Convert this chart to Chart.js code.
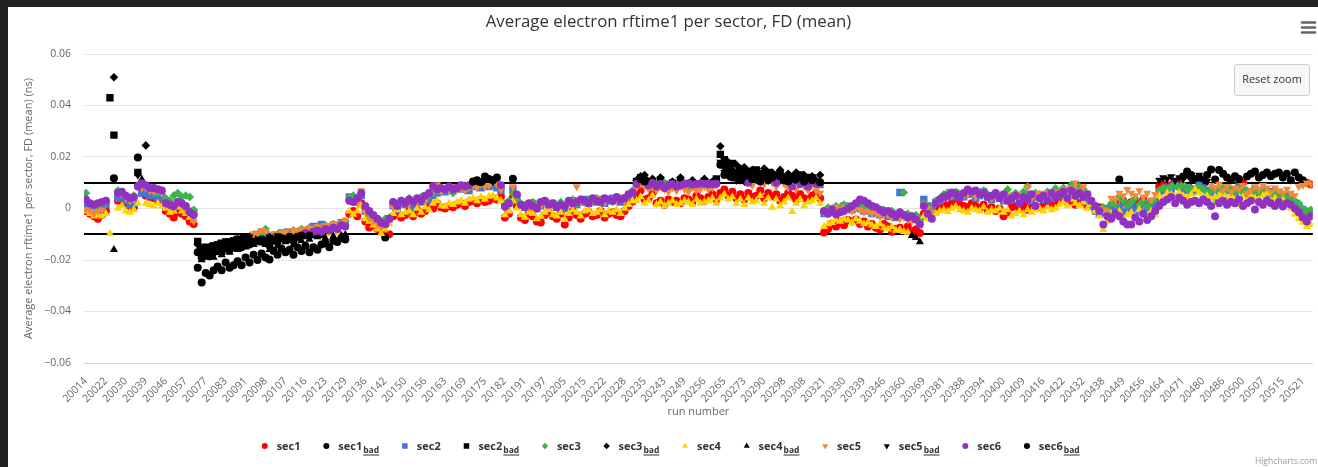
<!DOCTYPE html>
<html>
<head>
<meta charset="utf-8">
<script src="https://cdn.jsdelivr.net/npm/chart.js@4/dist/chart.umd.min.js"></script>
<style>
  html, body { margin: 0; padding: 0; background: #222; }
  #wrap { position: absolute; left: 8px; top: 7px; width: 1310px; height: 460px; background: #fff; }
  canvas { display: block; }
</style>
</head>
<body>
<div id="wrap"><canvas id="c" width="1310" height="460"></canvas></div>
<script>
// Run numbers printed on the x axis (one label every 5 runs)
const runTicks = [
  '20014','20022','20030','20039','20046','20057','20077','20083','20091','20098',
  '20107','20116','20123','20129','20136','20142','20150','20156','20163','20169',
  '20175','20182','20191','20197','20205','20215','20222','20228','20235','20243',
  '20249','20256','20265','20273','20290','20298','20308','20321','20330','20339',
  '20346','20360','20369','20381','20388','20394','20400','20409','20416','20422',
  '20432','20438','20449','20456','20464','20471','20480','20486','20500','20507',
  '20515','20521'
];
const runsPerTick = 5;

// Mean electron rftime1 per run, one array per FD sector, in ps (null = no entry)
const sec1 = [
  -1, -2, -3, -4, -2.5, -1,
  null, 11.7,
  3, 4, 2, 1, 0.5, 19.8, 6, 5, 4.5, 4, 3, 3.5,
  -1, -2, -3.5, -1.5, -2, -3, -5, -6,
  -23, -28.7, -25, -26, -24, -22.5, -24, -21, -23, -22, -20.5, -22, -19, -21, -18, -20, -17.5, -19, -19.8, -16.5,
  -18, -15.5, -17, -16, -18, -15, -16.5, -14.5, -17, -15, -16, -14, -13.5, -15, -12.5, -13, -11.5, -12,
  -2, -1, -3, 2, -5, -7.4, -6, -8, -9, -11.3, -10,
  -3, -1.5, -3.5, -2.5, -1, -3, -0.5, -2, -1, 0.5, 0, 2,
  0.5, 0, 1, 0.5, 1.5, 2, 1, 2.5, 3, 2, 3.5, 2.5, 3, 4, 3.5, 4.7, -3.5, -2, 4.3, 1,
  -3.5, -4.5, -2, -3, -5, -5.4, -2.5, -1.5, -3, -4, -2, -6.2, -3.5, -1, -2.5, -4, -2, -1.5, -3, -2.5,
  -1, -3.5, -2, -1.5, -2.5, -3, -1, 1, 2.7,
  5, 7, 3.5, 4, 6, 2, 3, 1.5, 3.5, 2.5, 3, 2, 4, 3.5, 2.5, 5, 4, 3, 4.5, 5.5, 3.5, 6, 7.4, 5,
  6.5, 4, 5.5, 3.5, 6, 4.5, 5, 7, 4, 6, 4.7, 5.5, 3, 4.5, 6, 5, 3.5, 5.5, 4, 3.5, 5, 6, 4,
  -9.3, -8, -6, -7, -5, -6.5, -4.5, -5, -4.3, -6, -5, -7, -6, -7.5, -8.2, -6, -7, -9, -8, -7.5, -8.5, -7, -9, -8.2, -9.5,
  -2, -3, -1.5, -1, 0.5, 1.5, 1, 2, 2.5, 1.5, 1, 0.5, 2, 1, 0, 1.5, -0.5, 0.5, -1, 0, -3, -1.5, 0.5, 1,
  0, 1.5, -0.5, 2, 1, 0.5, 1.5, 2.5, 1, 2, 3, 4.7, 2.5, 3.5, 1.5, 2, 3, 1, 2, -0.4, 0.5, -1.5, -2,
  1, 2, 11.3, 3, 1.5, 2.5, 0.8, 2, 3.5, 1, 2.5, 3,
  8.5, 9.3, 8.2, 9, 10, 9.5, 12.4, 14.4, 13, 11.5, 12, 10.5, 13, 15.1, 11.3, 15, 13.5, 12, 11, 12.5,
  11.5, 10, 12.4, 13.5, 14.4, 12, 13, 14, 12.5, 13.5, 14, 12, 13.5, 11, 14, 12, 11, 10, 9.3
];
const sec2 = [
  1, 0, 1, -1, 0, 1.5,
  43, 28.5,
  4, 5, 3, 1.5, 2, 14, 6, 6, 5, 5, 4, 4.5,
  1.5, 1, 0.5, 2, 1, 0, -1, -1.5,
  -12.8, -16, -15.5, -16, -14.5, -15, -13.5, -14, -13, -13.5, -12, -12.5, -11, -12, -10.5, -11, -9.5, -10, -12, -10.5,
  -11, -9.5, -10, -9.2, -10.5, -9, -9.5, -8.5, -9, -7, -8, -6.2, -7.5, -8, -6.5, -7, -5.5, -6,
  4.5, 4, 2.5, 5, -1, -3, -4, -5.5, -5, -6, -4,
  1, -0.5, 2, 1.5, 2.5, 0.5, 3, 2.5, 3.5, 3, 5, 6,
  7, 6.5, 7.5, 7, 8, 7.5, 8, 7, 8.5, 9, 8, 9, 8.5, 9, 8, 7, 1.5, 2, 7.4, 4,
  1.5, 0.5, 1, 2, 0, 1, 2.5, 1.5, 2, 0.5, 1, 0, 2, 3, 1.5, 2.5, 3.5, 2, 3, 2.5,
  3.5, 2, 3, 4, 3, 2.5, 3.5, 4.5, 6,
  10.5, 12, 11, 9.5, 10, 9, 11, 9.5, 8.5, 10, 9, 10.5, 9.5, 8.5, 10, 9, 9.5, 10.5, 9.5, 10, 11.5, 21, 19, 16.5,
  17.5, 14, 15.5, 13, 14.5, 12.5, 15, 13.5, 12, 14, 12.5, 11.5, 13.5, 12, 11, 12.5, 11, 13, 11.5, 10.5, 12, 10, 9.3,
  -2, -1, -1.5, 0, -0.5, 1, 0.5, -0.5, 1, 0, -1, -0.5, -2, -1, -2.5, -1.5, -3, -2, -3.5, 6.2, -2.5, -3, -4, -3.5, -5,
  3.5, 1, 0, 2.5, 3, 4, 5, 4.5, 6, 5, 4.5, 6, 5.5, 4, 5, 6.5, 4.5, 3.5, 5, 4, 3, 4.5, 3.5, 5,
  2.5, 4, 5.5, 3, 4.5, 5, 3.5, 5.5, 4, 6, 5, 7, 5.5, 6, 4.5, 7, 5.5, 3, 0.8, -1, -2.3, 0, -1.5,
  0, -1, 0.5, -1.5, -0.5, 0.8, -1, 0, -1.5, 0.5, -0.5, 1,
  6, 7, 8, 7.5, 9, 8.5, 7, 8, 6.5, 7.5, 9, 8, 7, 6, 7.5, 5, 6.5, 8, 7, 6,
  8.5, 7, 5.5, 6.5, 7.5, 6, 7, 5, 6.5, 5.5, 6, 4.5, 5, 3.5, 2, 1, -0.5, -2, -1
];
const sec3 = [
  6, 2, 1.5, 1, 2, 3,
  null, 51,
  7, 6, 5, 4, 5, 9, 9.5, 24.5, 7.5, 8, 6, 7,
  4, 3, 5, 6, 4.5, 5, 4.5, -0.5,
  -14, -17, -16, -15, -15.5, -14, -14.5, -13, -13.5, -12.5, -12, -11.5, -12, -11, -10.5, -10, -9.5, -8, -11.5, -10.5,
  -10, -9.5, -9, -9.5, -8.5, -9.5, -8, -9, -7.5, -8.5, -7, -8, -6.5, -7.5, -6, -7, -6.5, -5,
  4, 5, 3, 6, 0, -2, -3, -4, -5, -4, -3.5,
  2.5, 1, 3, 1.5, 4, 2.5, 3.5, 4.5, 3, 5.5, 6, 7,
  6.5, 7, 7.5, 6, 7.5, 8, 8.5, 8, 9, 10.5, 9.5, 10.8, 9, 11, 10, 8, 2, 3, 6, 3,
  2, 1, 0.5, 2.5, 1, 2, 3, 2, 1.5, 1, 2.5, 1, 2, 3.5, 2, 3, 2.5, 3.5, 3, 4,
  2.5, 3.5, 3, 2.5, 4, 3.5, 4, 5, 7,
  11, 12.5, 13, 10.5, 11.5, 9.5, 12, 10, 9, 10.5, 9.5, 12, 10, 9, 11, 9.5, 10, 11.5, 10, 10.5, 11, 24.2, 16, 18,
  15, 17, 14, 16, 13.5, 15, 14.5, 13, 15.5, 12.5, 14, 13, 15, 12, 13.5, 12, 14, 11.5, 13, 12, 12.5, 11, 13,
  -1, 0.4, 0, 1, 0.5, 1.5, 1, 0, 2, 1, 0, 0.5, -1, 0, -1.5, -0.5, -2, -1, -2.5, -1.5, 6.2, -2, -3, -2.5, -4,
  2, 0.5, -1, 3, 4, 5.5, 6.2, 5, 6.5, 5.5, 5, 6, 6.5, 5, 6, 7, 5.5, 4, 6, 5, 4, 7.4, 5, 6,
  4.5, 6.5, 8.5, 5, 6, 5.5, 4.5, 6.5, 5, 7.8, 6, 8, 7, 9.2, 6.5, 8.5, 7.5, 5, 2, 0.5, -1, 0.5, -0.5,
  2, 1.5, 4.7, 3, 1, 2.5, 4, 1.5, 3, 0.8, 2.5, 3.5,
  7, 8, 7.5, 8.5, 9, 8, 9.3, 7.5, 8, 7, 8.5, 7.5, 6, 7, 3.5, 6.5, 8, 7, 7.5, 6.5,
  8, 6, 7, 5.5, 7.5, 6, 6.5, 7, 5.5, 6, 5, 5.5, 4, 4.5, 3, 2, 0, -1.5, -0.5
];
const sec4 = [
  -1, -2, -3, -2.5, -3, -2,
  -9.8, -16,
  0, 1, -1, -1.5, -0.5, 2, 11.3, 2, 1.5, 1, 2, 1,
  0, -1.5, -1, 0.5, -1, -2, -3.5, -4.5,
  -16.7, -20, -19, -18, -19, -17, -18, -16, -17, -15, -16, -14.5, -15, -13, -14, -12.5, -13.5, -14, -16, -13,
  -14.5, -12, -13, -12.5, -14, -11.5, -12.5, -11, -12, -10.5, -11, -10.5, -11.5, -10, -10.8, -9.5, -10.5, -10.2,
  -1, -2.3, -1, 1, -4, -5, -6.5, -8, -9.8, -8, -6,
  -2, -0.5, -2.5, -1.5, -1, -2.5, 0, -1.5, 0.5, -0.5, 2, 3,
  1, 0.8, 2, 1.5, 2.5, 3, 2, 3.5, 4, 3, 4.5, 3.5, 4.7, 5, 4, 3, -2.5, -1, 3, 0,
  -2.5, -3.5, -1.5, -2, -4, -3, -1.5, -0.5, -2.5, -3, -1.5, -4.3, -2, -0.5, -1.5, -3, -1, -0.5, -2, -1.5,
  -0.5, -2.5, -1, -1.5, -0.5, -2, 0, 1.5, 3,
  3, 4.5, 2, 3, 5, 1.5, 2.5, 1, 2, 3, 1.5, 2, 3, 2.5, 1.5, 3.5, 2, 2.5, 3, 4, 2, 4, 5.5, 3.5,
  4.5, 2, 3.5, 1.5, 4, 2.5, 3, 5, 2, 4, 0.4, 3.5, 1, 2.5, 4, -1.2, 2, 3.5, 1, 2.5, 3, 4, 2,
  -7, -6, -5.5, -4.5, -5, -4, -4.5, -5.5, -4, -5, -6, -5.4, -6.5, -7, -6, -7.5, -8, -7, -8.5, -8.2, -9, -9.3, -10.5, -11.3, -13,
  -3, -4, -2.5, -2, -1, -0.5, -1.2, 0, 0.8, -0.5, -1, -1.5, 0, -0.5, -1, 0.5, -1.5, -0.5, -1, 0, -1.5, -0.5, -3, -2,
  -1, -2.5, -0.5, -1.5, -0.5, 0, -1, 0.5, -0.5, 0, 1.5, 2.5, 1, 3.5, 2, 1, 2.5, 0, 1.5, -1, -3, -8.2, -5,
  -2, -3, -1, -4.3, -2.5, -1.5, -3, -0.4, -2, -3.5, -1, -2.5,
  5, 4, 6, 5.5, 4.5, 6.2, 5, 4, 5.5, 7.4, 6, 4.5, 5, 3.5, 4.5, 5, 6, 4, 5, 3.5,
  1.5, 4.5, 3, 5, 4, 3.5, 5, 6, 3, 4, 2.5, 3.5, 1.5, 0, -2.3, -4, -5.4, -7, -6.2
];
const sec5 = [
  -0.5, -1, -2, -1, -0.5, 2.5,
  null, null,
  6, 5.5, 4, 3, 3.5, 13, 8, 8, 7, 6.5, 7, 6,
  1.5, 1, 0, 2, 1, -0.5, -2, -5,
  -13, -15, -14.5, -15, -14, -13.5, -14, -12.5, -13, -12, -11.5, -12, -10.5, -11, -10, -9.5, -8.5, -9, -11, -10,
  -10.5, -9.5, -9.2, -10, -8.5, -9, -8, -8.5, -7.5, -8, -7, -7.5, -6.5, -7, -6, -6.5, -5.5, -4.5,
  3, 3.5, 2, 7, -1.5, -4, -5, -6, -7, -6, -5,
  0.5, 1.5, 2, 3, 1.5, 3.5, 2.5, 4, 3, 5.5, 7, 9.3,
  7, 8, 7.5, 8.5, 7.5, 8, 7, 8.5, 9, 8, 9.5, 8.5, 9, 10.5, 9.5, 7.4, 0, 1, 8.5, 5,
  2, 1, 0.5, 1.5, 0, 1, 3, 2, 1.5, 0.5, 2, 1, 2, 3, 8.5, 2.5, 3.5, 2, 3, 4,
  3.5, 2.5, 4, 3, 3.5, 4.5, 3, 5, 6.5,
  8, 9.5, 8.5, 7.5, 8, 7, 8.5, 7.5, 6.5, 8, 7, 8.5, 7.5, 6.5, 8, 7, 7.5, 8.5, 7.5, 8, 9, 18, 14, 12.5,
  13, 11, 12, 10.5, 11.5, 9, 12, 10.5, 9.5, 11, 10, 8.5, 11, 9.5, 8, 10.5, 7.5, 10, 8.5, 7, 9.5, 7, 6,
  -1.5, -0.5, 0, 0.5, -0.5, 0.5, 0, -1, 1, -0.5, -1.5, -1, -2, -1.5, -3, -2, -2.5, -3.5, -3, -4, -3.5, -4.5, -5, -4, -6,
  1.5, 0, -1.5, 2, 3, 4, 4.5, 5, 5.5, 4.5, 5, 5.5, 6, 4.5, 5.5, 6, 5, 4, 5.5, 4.5, 3.5, 5, 4.5, 5.5,
  3.5, 5, 8.5, 4, 5, 6, 4, 6, 5, 6.5, 5.5, 7.5, 6, 8, 10, 7, 8.5, 6, 3, 1, 0, -0.5, -1,
  4, 3.5, 6, 5, 7.4, 6, 5, 7, 4.5, 6, 3.5, 5.5,
  11, 12, 11.5, 12.4, 11, 12, 11.5, 13, 11, 12, 13, 11.5, 10.5, 9, 8, 9.5, 7, 8.5, 6.5, 8,
  7.5, 9, 6, 7, 8.5, 7.5, 9, 8, 6.5, 8, 7, 6, 7.5, 6, 5, 8.5, 9, 10, 9.5
];
const sec6 = [
  3.5, 2, 1.5, 2, 2.5, 3,
  null, null,
  6, 6.5, 5, 4, 4.5, 8.5, 9.8, 9, 8, 8, 7.5, 7,
  2, 1.5, 1, 2.5, 2, 1, -1.5, -2.5,
  -17, -19, -18, -18.5, -17, -16.5, -17, -15.5, -16, -15, -14.5, -15, -13.5, -14, -13, -12.5, -12, -12.5, -14.5, -12,
  -13, -11.5, -12, -11, -12.5, -11, -10.5, -9.5, -10.5, -9, -8.5, -9, -8, -8.5, -7.5, -8, -6.5, -7,
  3, 2.5, 4, 6, 1, -1, -2.5, -4, -5.5, -6, -4,
  2.5, 1, 3, 2, 3.5, 2.5, 4, 3, 5, 6, 8.6, 7.5,
  8, 7.5, 8.5, 7.5, 8, 9, 8.5, 9, 10.5, 11, 10.2, 12.4, 11.5, 11, 12, 9, 0.8, 2, 11.6, 5.4,
  1.5, 0.5, 2, 1, 0, 2.5, 3, 1.5, 2, 0.5, 1.5, 1, 3, 2, 2.5, 3.5, 3, 2, 4, 3,
  2.5, 4, 3.5, 3, 4.5, 3.5, 4, 5.5, 6.2,
  9.5, 11.5, 10.5, 9, 10, 8.5, 9.5, 8, 9, 9.5, 8.5, 9, 9.5, 9.8, 9.3, 9.5, 9.7, 9.6, 9.4, 9.5, 9.6, 17, 13, 14.5,
  12, 13.5, 11, 12.5, 10, 11.5, 12, 10.5, 13, 11, 12, 10, 12.5, 11, 10.5, 8.5, 11.5, 9.5, 10.5, 8.5, 11, 9.5, 10.2,
  -1, -2, -0.4, -2.3, -1.5, -1, 0, 1, 2, 3.5, 3, 2, 1, 0.5, -0.5, -1.5, -1, -2, -3, -1.5, -2.5, -3.5, -3, -4.3, -6.2,
  1, -2, -4, 2, 3.5, 4.5, 5, 6.2, 5.5, 4, 6, 7.4, 6.5, 7, 5.5, 6, 4.5, 5, 6, 4, 5.5, 3, 4, 5,
  2, 4.5, 3.5, 5.5, 1, 4, 5, 3, 6, 4.5, 5.5, 6.5, 4, 7, 5, 6, 4.5, 5.5, 3, 1, -1, -6.2, -3,
  -4, -2, -3, -5, -6.2, -6.2, -3.5, -5, -2, -4.5, -3, -1,
  1, 2.5, 3.5, 4.5, 2, 4.2, 3, 1.5, 2.5, 3, 2, 3.5, 2.5, 1, -3, 2, 3, 1.5, 2.5, 2,
  3.5, 1, 2, 3, -0.4, 2.5, 1.5, 3, 2, 1, 2.5, 0.8, 2, 1.5, 0, -1.5, -3.5, -5, -3
];

// Acceptance band: |mean| above this (ps) is flagged as "bad"
const limitPs = 10;

const sectorNames = ['sec1', 'sec2', 'sec3', 'sec4', 'sec5', 'sec6'];
const sectorValues = [sec1, sec2, sec3, sec4, sec5, sec6];
const sectorColors = ['#ff0000', '#4673d8', '#3cb44b', '#ffd400', '#f2893a', '#9131c2'];
const sectorMarkers = [
  { pointStyle: 'circle',   radius: 4.0, rotation: 0 },
  { pointStyle: 'rect',     radius: 5.2, rotation: 0 },
  { pointStyle: 'rectRot',  radius: 4.3, rotation: 0 },
  { pointStyle: 'triangle', radius: 4.7, rotation: 0 },
  { pointStyle: 'triangle', radius: 4.7, rotation: 180 },
  { pointStyle: 'circle',   radius: 4.0, rotation: 0 }
];
const nRuns = sec1.length;

// Split each sector into in-band and out-of-band datasets
const datasets = [];
sectorNames.forEach((name, k) => {
  const good = [], bad = [];
  sectorValues[k].forEach((v, i) => {
    if (v === null) return;
    (Math.abs(v) > limitPs ? bad : good).push({ x: i, y: v / 1000 });
  });
  const m = sectorMarkers[k];
  const common = {
    pointStyle: m.pointStyle, pointRadius: m.radius, pointHoverRadius: m.radius,
    pointRotation: m.rotation, pointBorderWidth: 0, pointHoverBorderWidth: 0, showLine: false
  };
  datasets.push(Object.assign({ label: name, sub: '', data: good, backgroundColor: sectorColors[k],
    borderColor: sectorColors[k], order: 12 - 2 * k }, common));
  datasets.push(Object.assign({ label: name, sub: 'bad', data: bad, backgroundColor: '#000000',
    borderColor: '#000000', order: 11 - 2 * k }, common));
});

const FONT = '"Open Sans", "DejaVu Sans", sans-serif';

function fmtY(v) {
  if (Math.abs(v) < 1e-9) return '0';
  return (v < 0 ? '\u2212' : '') + Math.abs(v).toFixed(2);
}

function drawMarker(ctx, style, radius, rotation, x, y) {
  if (Chart.helpers && Chart.helpers.drawPoint) {
    Chart.helpers.drawPoint(ctx, { pointStyle: style, radius: radius, rotation: rotation, borderWidth: 0 }, x, y);
  } else {
    ctx.beginPath(); ctx.arc(x, y, radius, 0, Math.PI * 2); ctx.fill();
  }
}

const decor = {
  id: 'decor',
  beforeDatasetsDraw(chart) {
    const { ctx, chartArea, scales } = chart;
    ctx.save();
    ctx.strokeStyle = '#000';
    ctx.lineWidth = 2;
    [limitPs, -limitPs].forEach(v => {
      const y = Math.round(scales.y.getPixelForValue(v / 1000));
      ctx.beginPath();
      ctx.moveTo(chartArea.left, y);
      ctx.lineTo(chartArea.right, y);
      ctx.stroke();
    });
    ctx.restore();
  },
  afterDraw(chart) {
    const { ctx, chartArea } = chart;
    const W = chart.width;
    ctx.save();
    // title
    ctx.fillStyle = '#333';
    ctx.font = '16.8px ' + FONT;
    ctx.textAlign = 'center';
    ctx.textBaseline = 'middle';
    ctx.fillText('Average electron rftime1 per sector, FD (mean)', 660.5, 15);

    // axis titles
    ctx.fillStyle = '#666';
    ctx.font = '11px ' + FONT;
    ctx.fillText('run number', (chartArea.left + chartArea.right) / 2, 405);
    ctx.save();
    ctx.translate(21, (chartArea.top + chartArea.bottom) / 2);
    ctx.rotate(-Math.PI / 2);
    ctx.fillText('Average electron rftime1 per sector, FD (mean) (ns)', 0, 0);
    ctx.restore();

    // legend
    const mainFont = 'bold 11px ' + FONT;
    const subFont = 'bold 8.5px ' + FONT;
    const items = datasets.map((d, i) => {
      ctx.font = mainFont;
      const w1 = ctx.measureText(d.label).width;
      ctx.font = subFont;
      const w2 = d.sub ? ctx.measureText(d.sub).width + 1 : 0;
      return { d: d, k: Math.floor(i / 2), w1: w1, w2: w2, width: 19.3 + w1 + w2 };
    });
    const gap = 18.4;
    const total = items.reduce((s, it) => s + it.width, 0) + gap * (items.length - 1);
    let x = 660.5 - total / 2;
    const ly = 439;
    items.forEach(it => {
      const m = sectorMarkers[it.k];
      ctx.fillStyle = it.d.backgroundColor;
      drawMarker(ctx, m.pointStyle, m.radius * 0.75, m.rotation, x + 7.4, ly);
      ctx.fillStyle = '#333';
      ctx.textAlign = 'left';
      ctx.textBaseline = 'alphabetic';
      ctx.font = mainFont;
      ctx.fillText(it.d.label, x + 19.3, ly + 4);
      if (it.d.sub) {
        const sx = x + 19.3 + it.w1 + 1;
        ctx.font = subFont;
        ctx.fillText(it.d.sub, sx, ly + 7);
        ctx.fillRect(sx, ly + 8.5, it.w2 - 1, 1);
      }
      x += it.width + gap;
    });

    // reset zoom button
    ctx.fillStyle = '#f7f7f7';
    ctx.strokeStyle = '#cccccc';
    ctx.lineWidth = 1;
    ctx.beginPath();
    if (ctx.roundRect) ctx.roundRect(1226.5, 57.5, 75, 31, 2); else ctx.rect(1226.5, 57.5, 75, 31);
    ctx.fill();
    ctx.stroke();
    ctx.fillStyle = '#333';
    ctx.font = '11px ' + FONT;
    ctx.textAlign = 'center';
    ctx.textBaseline = 'middle';
    ctx.fillText('Reset zoom', 1264, 73);

    // context menu symbol
    ctx.strokeStyle = '#666';
    ctx.lineWidth = 2.6;
    ctx.lineCap = 'round';
    [15.5, 20.5, 25.5].forEach(y => {
      ctx.beginPath(); ctx.moveTo(1294, y); ctx.lineTo(1307, y); ctx.stroke();
    });

    // credits
    ctx.fillStyle = '#999';
    ctx.font = '8.5px ' + FONT;
    ctx.textAlign = 'right';
    ctx.textBaseline = 'alphabetic';
    ctx.fillText('Highcharts.com', W - 1, 457);
    ctx.restore();
  }
};

new Chart(document.getElementById('c'), {
  type: 'scatter',
  data: { datasets: datasets },
  plugins: [decor],
  options: {
    responsive: false,
    animation: false,
    devicePixelRatio: 1,
    layout: { padding: { top: 47, left: 0, right: 0, bottom: 0 } },
    plugins: { legend: { display: false }, title: { display: false }, tooltip: { enabled: false } },
    events: [],
    scales: {
      x: {
        type: 'linear',
        min: -0.5,
        max: nRuns - 0.5,
        grid: { display: false },
        border: { display: true, color: '#ccd6eb', width: 1 },
        afterBuildTicks: s => { s.ticks = runTicks.map((_, k) => ({ value: k * runsPerTick })); },
        afterFit: s => { s.height = 104; s.paddingLeft = 0; s.paddingRight = 0; },
        ticks: {
          autoSkip: false, minRotation: 45, maxRotation: 45, padding: 4,
          color: '#666', font: { family: FONT, size: 10.5 },
          callback: v => runTicks[Math.round(v / runsPerTick)]
        }
      },
      y: {
        min: -0.06,
        max: 0.06,
        afterFit: s => { s.width = 76; },
        grid: { color: '#e6e6e6', lineWidth: 1, drawTicks: false },
        border: { display: false },
        ticks: {
          stepSize: 0.02, padding: 13,
          color: '#666', font: { family: FONT, size: 10.5 },
          callback: v => fmtY(v)
        }
      }
    }
  }
});
</script>
</body>
</html>
